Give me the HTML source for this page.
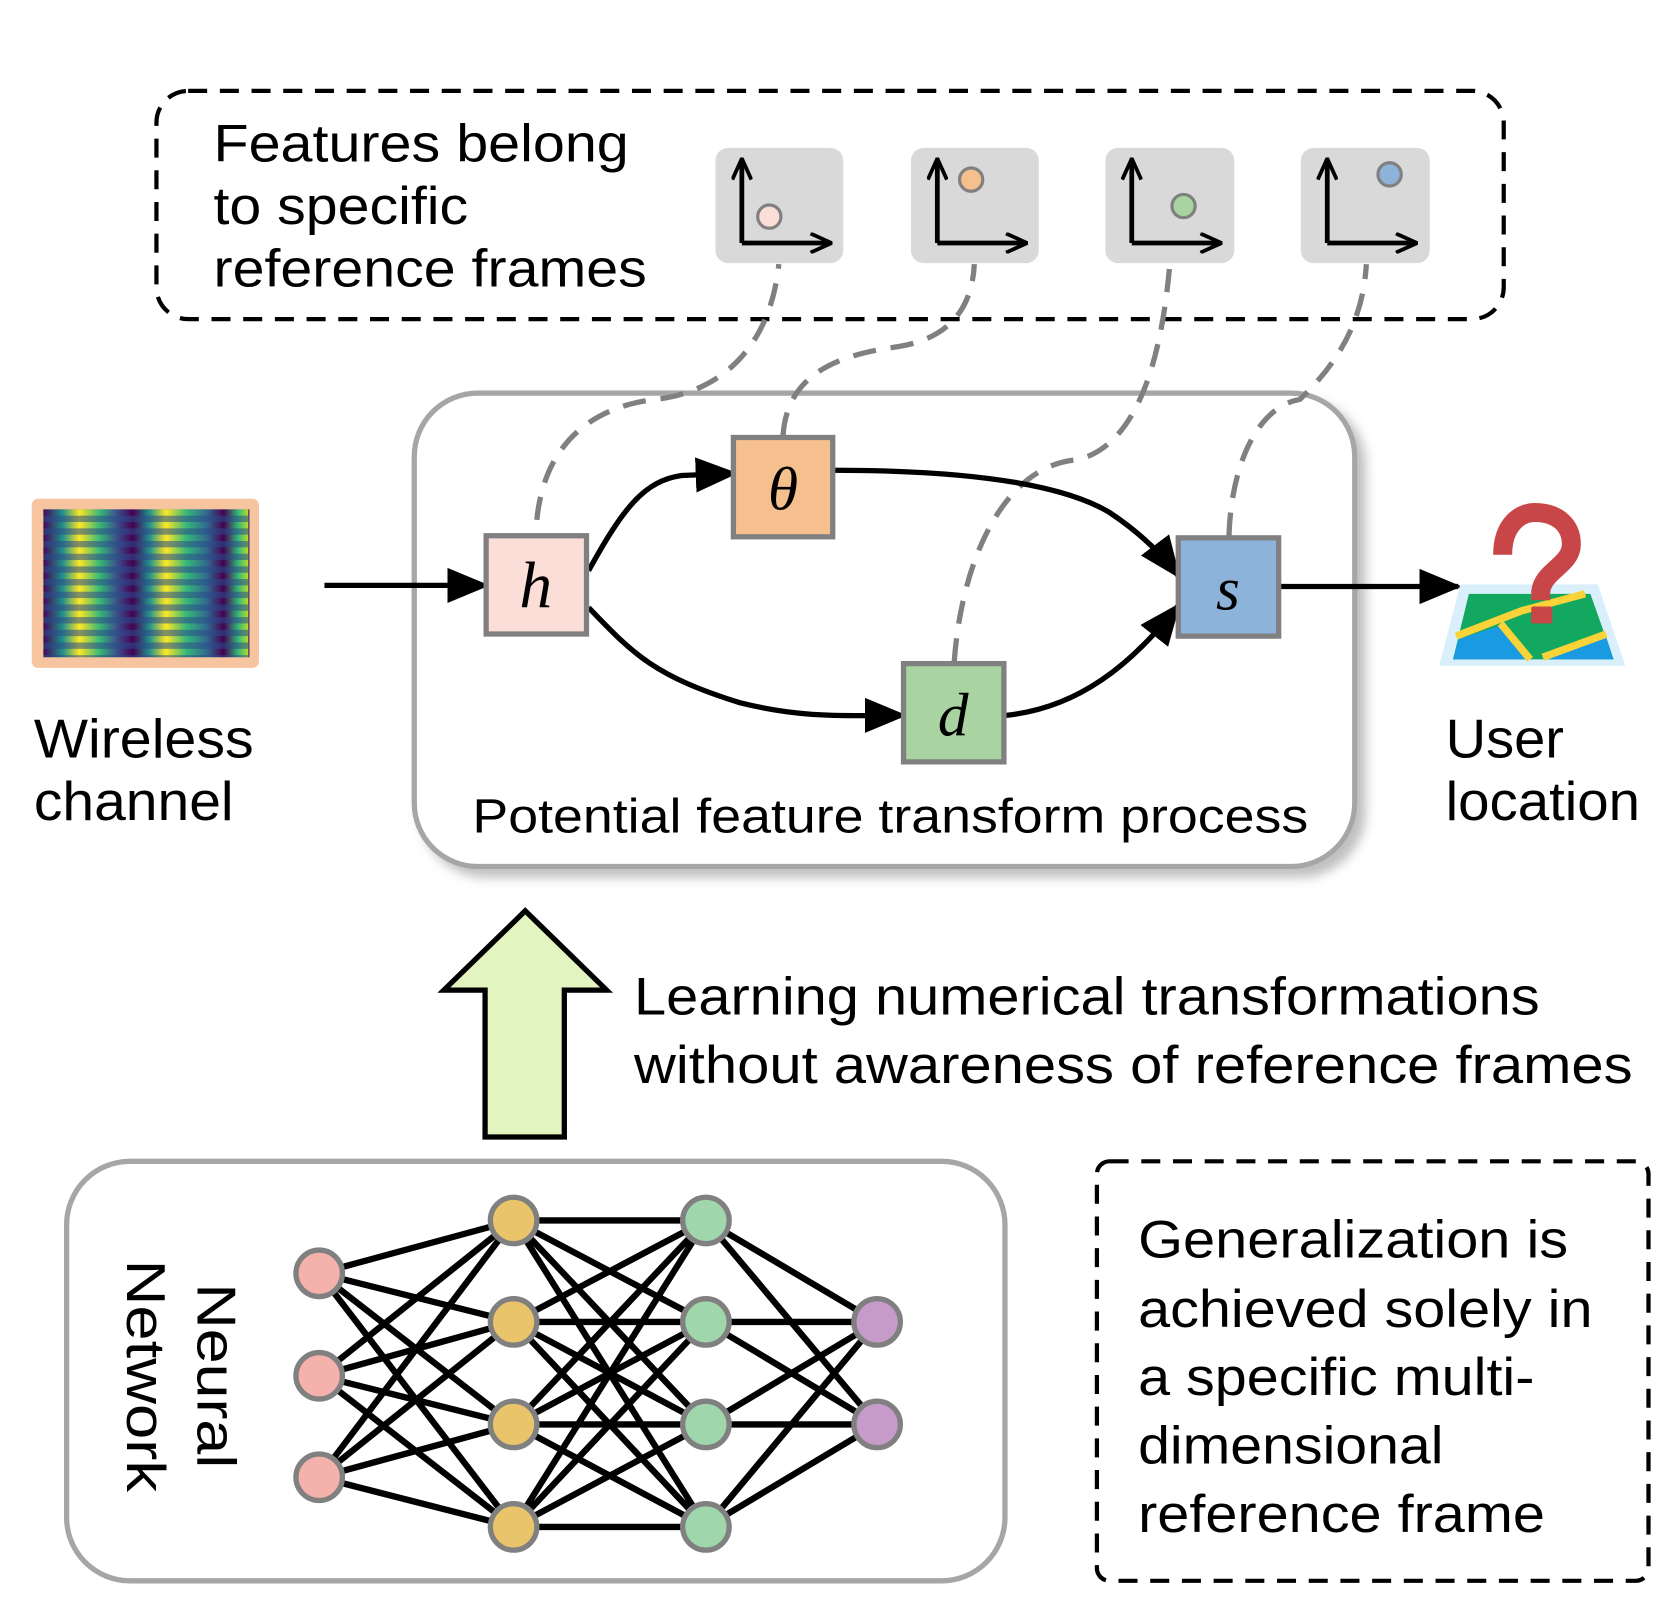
<!DOCTYPE html>
<html><head><meta charset="utf-8"><style>
html,body{margin:0;padding:0;background:#fff;}
svg{display:block;}
text{font-family:"Liberation Sans",Arial,sans-serif;fill:#000;}
.m{font-family:"Liberation Serif","DejaVu Serif",serif;font-style:italic;}
</style></head><body>
<svg width="1657" height="1603" viewBox="0 0 1568 1517" xmlns="http://www.w3.org/2000/svg">
<defs>
<marker id="a" viewBox="0 0 12 10" refX="11" refY="5" markerWidth="40" markerHeight="34" markerUnits="userSpaceOnUse" orient="auto"><path d="M0,0 L12,5 L0,10 Z" fill="#000"/></marker>
<marker id="s" viewBox="0 0 10 10" refX="9" refY="5" markerWidth="22" markerHeight="20" markerUnits="userSpaceOnUse" orient="auto"><path d="M0,0.5 L10,5 L0,9.5" fill="none" stroke="#000" stroke-width="1.8"/></marker>
<linearGradient id="vg" x1="0" y1="0" x2="1" y2="0">
<stop offset="0" stop-color="#440154"/><stop offset="0.1" stop-color="#21918c"/><stop offset="0.18" stop-color="#fde725"/><stop offset="0.28" stop-color="#35b779"/><stop offset="0.36" stop-color="#3b528b"/><stop offset="0.44" stop-color="#440154"/><stop offset="0.52" stop-color="#21918c"/><stop offset="0.6" stop-color="#fde725"/><stop offset="0.7" stop-color="#35b779"/><stop offset="0.8" stop-color="#31688e"/><stop offset="0.88" stop-color="#440154"/><stop offset="0.95" stop-color="#35b779"/><stop offset="1" stop-color="#b5de2b"/>
</linearGradient>
<pattern id="stripes" x="40" y="482" width="195" height="12" patternUnits="userSpaceOnUse">
<rect width="195" height="12" fill="url(#vg)"/>
<rect y="6" width="195" height="6" fill="#2a4a8a" opacity="0.55"/>
</pattern>
<filter id="sh" x="-5%" y="-5%" width="115%" height="115%"><feDropShadow dx="8" dy="8" stdDeviation="5" flood-color="#000" flood-opacity="0.25"/></filter>
</defs>

<rect x="148" y="86" width="1275" height="216" rx="30" fill="none" stroke="#000" stroke-width="4" stroke-dasharray="18,12"/>
<text x="202" y="153" font-size="50" textLength="393" lengthAdjust="spacingAndGlyphs">Features belong</text>
<text x="202" y="212" font-size="50" textLength="241" lengthAdjust="spacingAndGlyphs">to specific</text>
<text x="202" y="271" font-size="50" textLength="410" lengthAdjust="spacingAndGlyphs">reference frames</text>

<g>
<rect x="677" y="140" width="121" height="109" rx="12" fill="#d9d9d9"/>
<rect x="862" y="140" width="121" height="109" rx="12" fill="#d9d9d9"/>
<rect x="1046" y="140" width="122" height="109" rx="12" fill="#d9d9d9"/>
<rect x="1231" y="140" width="122" height="109" rx="12" fill="#d9d9d9"/>
</g>
<g stroke="#000" stroke-width="4.5" fill="none">
<path d="M702,230 L702,152" marker-end="url(#s)"/><path d="M702,230 L785,230" marker-end="url(#s)"/>
<path d="M887,230 L887,152" marker-end="url(#s)"/><path d="M887,230 L970,230" marker-end="url(#s)"/>
<path d="M1071,230 L1071,152" marker-end="url(#s)"/><path d="M1071,230 L1154,230" marker-end="url(#s)"/>
<path d="M1256,230 L1256,152" marker-end="url(#s)"/><path d="M1256,230 L1339,230" marker-end="url(#s)"/>
</g>
<g stroke="#808080" stroke-width="3">
<circle cx="728" cy="205" r="11" fill="#fbded8"/>
<circle cx="919" cy="170" r="11" fill="#f6bf8e"/>
<circle cx="1120" cy="195" r="11" fill="#a9d3a0"/>
<circle cx="1315" cy="165" r="11" fill="#8db3da"/>
</g>

<rect x="392" y="372" width="890" height="448" rx="60" fill="#fff" stroke="#a6a6a6" stroke-width="5" filter="url(#sh)"/>
<text x="447" y="788" font-size="46" textLength="791" lengthAdjust="spacingAndGlyphs">Potential feature transform process</text>

<g stroke="#808080" stroke-width="5" fill="none" stroke-dasharray="22,14">
<path d="M508,492 C515,420 560,385 620,378 C690,370 730,320 737,250"/>
<path d="M741,412 C745,350 800,335 850,328 C900,320 920,290 922,250"/>
<path d="M903,626 C910,530 950,440 1020,435 C1080,420 1100,330 1107,250"/>
<path d="M1163,507 C1165,440 1190,385 1230,378 C1270,340 1290,300 1293,250"/>
</g>

<g stroke="#000" stroke-width="5" fill="none">
<path d="M307,554 L460,554" marker-end="url(#a)"/>
<path d="M557,540 C590,480 610,455 645,450 L695,448" marker-end="url(#a)"/>
<path d="M557,575 C600,620 620,640 700,665 C760,680 800,677 855,677" marker-end="url(#a)"/>
<path d="M788,445 C900,445 1000,455 1050,485 C1080,505 1100,525 1115,545" marker-end="url(#a)"/>
<path d="M952,677 C1020,670 1070,630 1115,573" marker-end="url(#a)"/>
<path d="M1210,555 L1380,555" marker-end="url(#a)"/>
</g>

<g stroke="#808080" stroke-width="5">
<rect x="460" y="507" width="95" height="93" fill="#fbded8"/>
<rect x="694" y="414" width="94" height="94" fill="#f6bf8e"/>
<rect x="1115" y="509" width="95" height="93" fill="#8db3da"/>
<rect x="855" y="628" width="95" height="93" fill="#a9d3a0"/>
</g>
<text class="m" x="507" y="575" font-size="62" text-anchor="middle">h</text>
<text class="m" x="741" y="482" font-size="58" text-anchor="middle">θ</text>
<text class="m" x="1162" y="577" font-size="58" text-anchor="middle">s</text>
<text class="m" x="902" y="696" font-size="58" text-anchor="middle">d</text>

<rect x="30" y="472" width="215" height="160" rx="6" fill="#f6c49e"/>
<rect x="41" y="482" width="195" height="140" fill="url(#stripes)"/>
<text x="32" y="717" font-size="52" textLength="208" lengthAdjust="spacingAndGlyphs">Wireless</text>
<text x="32" y="776" font-size="52" textLength="189" lengthAdjust="spacingAndGlyphs">channel</text>

<polygon points="1382,553 1512,553 1538,630 1362,630" fill="#d9effc"/>
<polygon points="1390,562 1505,562 1527,624 1375,624" fill="#12a860"/>
<polygon points="1375,624 1380,605 1420,592 1450,624" fill="#1a9ae0"/>
<polygon points="1460,624 1520,603 1527,624" fill="#1a9ae0"/>
<path d="M1378,602 L1440,578 L1500,562 M1420,590 L1448,624 M1460,622 L1520,600" stroke="#f9d338" stroke-width="7" fill="none"/>
<path d="M1422,525 C1422,495 1440,485 1452,485 C1475,485 1487,498 1487,515 C1487,535 1460,540 1458,560 L1458,568" stroke="#c94648" stroke-width="18" fill="none"/>
<rect x="1449" y="574" width="20" height="16" rx="2" fill="#c94648"/>
<text x="1368" y="717" font-size="52" textLength="112" lengthAdjust="spacingAndGlyphs">User</text>
<text x="1368" y="776" font-size="52" textLength="184" lengthAdjust="spacingAndGlyphs">location</text>

<polygon points="420,937 497,862 574,937 534,937 534,1076 459,1076 459,937" fill="#e2f4c0" stroke="#000" stroke-width="5"/>
<text x="600" y="960" font-size="50" textLength="857" lengthAdjust="spacingAndGlyphs">Learning numerical transformations</text>
<text x="600" y="1025" font-size="50" textLength="945" lengthAdjust="spacingAndGlyphs">without awareness of reference frames</text>

<rect x="63" y="1099" width="888" height="397" rx="60" fill="#fff" stroke="#a6a6a6" stroke-width="5"/>
<text transform="translate(187,1302) rotate(90)" font-size="52" text-anchor="middle" textLength="175" lengthAdjust="spacingAndGlyphs">Neural</text>
<text transform="translate(120,1302) rotate(90)" font-size="52" text-anchor="middle" textLength="220" lengthAdjust="spacingAndGlyphs">Network</text>
<g stroke="#000" stroke-width="6">
<path d="M302,1205L486,1155M302,1205L486,1251M302,1205L486,1348M302,1205L486,1445
M302,1302L486,1155M302,1302L486,1251M302,1302L486,1348M302,1302L486,1445
M302,1398L486,1155M302,1398L486,1251M302,1398L486,1348M302,1398L486,1445"/>
<path d="M486,1155L668,1155M486,1155L668,1251M486,1155L668,1348M486,1155L668,1445
M486,1251L668,1155M486,1251L668,1251M486,1251L668,1348M486,1251L668,1445
M486,1348L668,1155M486,1348L668,1251M486,1348L668,1348M486,1348L668,1445
M486,1445L668,1155M486,1445L668,1251M486,1445L668,1348M486,1445L668,1445"/>
<path d="M668,1155L830,1251M668,1155L830,1348M668,1251L830,1251M668,1251L830,1348
M668,1348L830,1251M668,1348L830,1348M668,1445L830,1251M668,1445L830,1348"/>
</g>
<g stroke="#808080" stroke-width="5">
<circle cx="302" cy="1205" r="22" fill="#f5b1ab"/>
<circle cx="302" cy="1302" r="22" fill="#f5b1ab"/>
<circle cx="302" cy="1398" r="22" fill="#f5b1ab"/>
<circle cx="486" cy="1155" r="22" fill="#eac46a"/>
<circle cx="486" cy="1251" r="22" fill="#eac46a"/>
<circle cx="486" cy="1348" r="22" fill="#eac46a"/>
<circle cx="486" cy="1445" r="22" fill="#eac46a"/>
<circle cx="668" cy="1155" r="22" fill="#9fd6ab"/>
<circle cx="668" cy="1251" r="22" fill="#9fd6ab"/>
<circle cx="668" cy="1348" r="22" fill="#9fd6ab"/>
<circle cx="668" cy="1445" r="22" fill="#9fd6ab"/>
<circle cx="830" cy="1251" r="22" fill="#c79bc9"/>
<circle cx="830" cy="1348" r="22" fill="#c79bc9"/>
</g>

<rect x="1038" y="1099" width="522" height="397" rx="12" fill="none" stroke="#000" stroke-width="4" stroke-dasharray="18,12"/>
<text x="1077" y="1190" font-size="50" textLength="407" lengthAdjust="spacingAndGlyphs">Generalization is</text>
<text x="1077" y="1256" font-size="50" textLength="430" lengthAdjust="spacingAndGlyphs">achieved solely in</text>
<text x="1077" y="1320" font-size="50" textLength="375" lengthAdjust="spacingAndGlyphs">a specific multi-</text>
<text x="1077" y="1385" font-size="50" textLength="289" lengthAdjust="spacingAndGlyphs">dimensional</text>
<text x="1077" y="1450" font-size="50" textLength="385" lengthAdjust="spacingAndGlyphs">reference frame</text>
</svg>
</body></html>
